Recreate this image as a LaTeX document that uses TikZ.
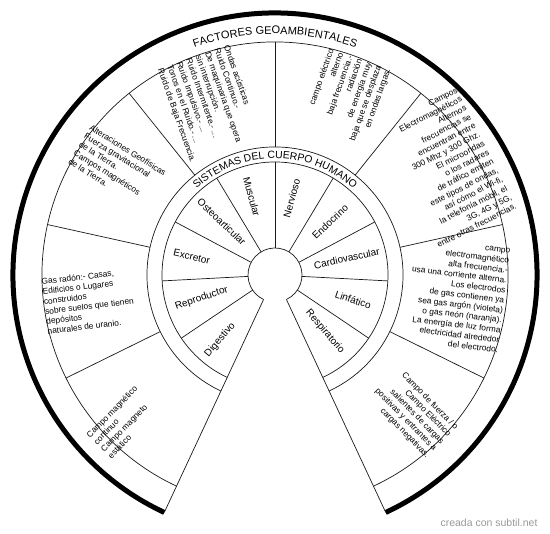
\documentclass[tikz,border=0pt]{standalone}
\usepackage{fontspec}
\setmainfont{Liberation Sans}
\usetikzlibrary{decorations.text}
\tikzset{
    factor/.style={font=\fontsize{8.4}{10}\selectfont, inner sep=0pt},
    sistema/.style={font=\fontsize{10}{12}\selectfont, inner sep=0pt},
    linea/.style={line width=0.7pt, black!90},
}

\begin{document}
\begin{tikzpicture}[x=1pt,y=1pt]
                \useasboundingbox (-275,-259) rectangle (275,275);
                \draw [line width=5pt] (-65:262pt) arc [start angle=-65, end angle=245, radius=262pt];
                \draw [linea] (-65:233pt) arc [start angle=-65, end angle=245, radius=233pt];
                \draw [linea] (-65:128pt) arc [start angle=-65, end angle=245, radius=128pt];
                \draw [linea] (-65:113pt) arc [start angle=-65, end angle=245, radius=113pt];
                \draw [linea] (-65:27pt) arc [start angle=-65, end angle=245, radius=27pt];
                \draw [linea] (-65:27pt) -- (-65:262pt);
                \draw [linea] (245:27pt) -- (245:262pt);
                \foreach \a in {-34,-3,28,59,90,121,152,183,214}
                    \draw [linea] (\a:27pt) -- (\a:113pt);
                \foreach \a in {-26.25,12.5,51.25,90,128.75,167.5,206.25}
                    \draw [linea] (\a:128pt) -- (\a:233pt);
                \path [decorate, decoration={text along path, text align=center,
                    text={|\fontsize{11}{13}\selectfont|FACTORES GEOAMBIENTALES}}]
                    (180:241pt) arc [start angle=180, end angle=0, radius=241pt];
                \path [decorate, decoration={text along path, text align=center,
                    text={|\fontsize{10.4}{12}\selectfont|SISTEMAS DEL CUERPO HUMANO}}]
                    (180:116.5pt) arc [start angle=180, end angle=0, radius=116.5pt];
                \node [sistema, rotate=-74.5] (muscular) at (106.6:81.7pt) {Muscular};
                \node [sistema, rotate=74.5] (nervioso) at (77.7:78.5pt) {Nervioso};
                \node [sistema, rotate=43.5] (endocrino) at (44:76.6pt) {Endocrino};
                \node [sistema, rotate=12.5] (cardiovascular) at (13:73.6pt) {Cardiovascular};
                \node [sistema, rotate=-18.5] (linfatico) at (-17.7:82pt) {Linfático};
                \node [sistema, rotate=-49.5] (respiratorio) at (-48.6:75.6pt) {Respiratorio};
                \node [sistema, rotate=49.5] (digestivo) at (229.8:85pt) {Digestivo};
                \node [sistema, rotate=18.5] (reproductor) at (197.6:77pt) {Reproductor};
                \node [sistema, rotate=-12.5] (excretor) at (167.6:85.3pt) {Excretor};
                \node [sistema, rotate=-43.5] (osteoarticular) at (135:75.4pt) {Osteoarticular};
                \node [factor, align=right, rotate=-45.6] (fuerza) at (-45:195pt)
                    {Campo de fuerza / o\\Campo Eléctrico\\salientes de cargas\\positivas y entrantes a\\cargas negativas.};
                \node [factor, align=right, rotate=-7] (altafrec) at (-6.3:183pt)
                    {campo\\electromagnético\\alta frecuencia.-\\usa una corriente alterna.\\Los electrodos\\de gas contienen ya\\sea gas argón (violeta)\\o gas neón (naranja).\\La energía de luz forma\\electricidad alrededor\\del electrodo.};
                \node [factor, align=right, rotate=27] (alternos) at (32:203pt)
                    {Campos\\Electromagnéticos\\Alternos\\frecuencias se\\encuentran entre\\300 Mhz y 300 Ghz.\\El microondas\\o los radares\\de tráfico emiten\\este tipos de ondas,\\así cómo el Wi-fi,\\la telefonía móbil, el\\3G, 4G y 5G,\\entre otras frecuencias.};
                \node [factor, align=right, rotate=70.6] (electrico) at (68:192pt)
                    {campo eléctrico\\alterno\\baja frecuencia.-\\radiación\\de energía muy\\baja que se desplaza\\en ondas largas.};
                \node [factor, align=left, rotate=-70.6] (ondas) at (111:183pt)
                    {Ondas acústicas\\Ruido Continuo.-\\De maquinaria que opera\\sin interrupción.\\Ruido Intermitente.- ...\\Ruido Impulsivo.- ...\\Tonos en el Ruido.- ...\\Ruido de Baja Frecuencia.};
                \node [factor, align=left, rotate=-31.9] (geofisicas) at (145.6:191pt)
                    {Alteraciones Geofísicas\\Fuerza gravitacional\\de la Tierra.\\Campos magnéticos\\de la Tierra.};
                \node [factor, align=left, rotate=6.9] (radon) at (188:188pt)
                    {Gas radón:- Casas,\\Edificios o Lugares\\construidos\\sobre suelos que tienen\\depósitos\\naturales de uranio.};
                \node [factor, align=left, rotate=45.6] (continuo) at (224:212pt)
                    {Campo magnético\\continuo\\Campo magneto\\estático};
                \node [font=\fontsize{10.5}{12}\selectfont, text=black!40] (marca) at (214,-248) {creada con subtil.net};
            \end{tikzpicture}
\end{document}
